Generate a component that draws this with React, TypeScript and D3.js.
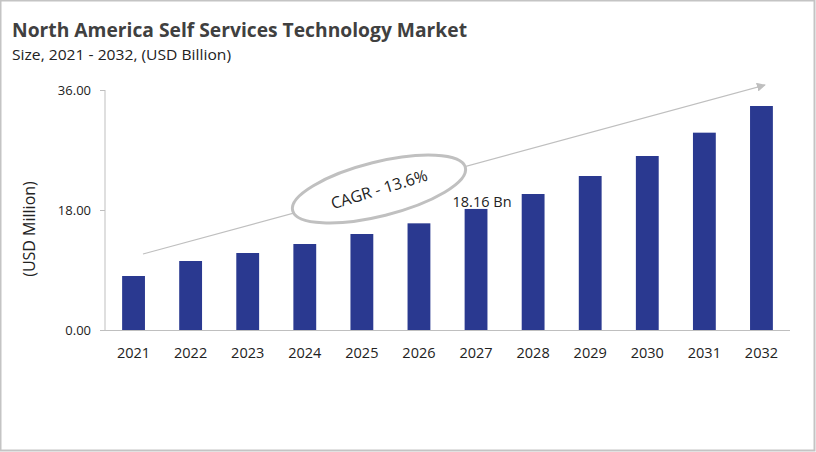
import { useEffect, useRef } from "react";
import * as d3 from "d3";

const years = [ "2021", "2022", "2023", "2024", "2025", "2026", "2027", "2028", "2029", "2030", "2031", "2032" ];
const marketSize = [ 8.1, 10.35, 11.55, 12.9, 14.4, 16.0, 18.16, 20.4, 23.1, 26.1, 29.6, 33.6 ];
const yTicks = [ 0, 18, 36 ];
const labelledYear = "2027";

const W = 816;
const H = 452;
const FONT = "'Open Sans', 'Noto Sans', sans-serif";

export default function App ()
{
    const svgRef = useRef<SVGSVGElement>( null );

    useEffect( () =>
    {
        document.body.style.margin = "0";
        if ( !svgRef.current ) return;
        const svg = d3.select( svgRef.current );
        svg.selectAll( "*" ).remove();

        svg.append( "rect" ).attr( "x", 0.5 ).attr( "y", 0.5 ).attr( "width", W - 2 ).attr( "height", H - 2 )
            .attr( "fill", "#fff" ).attr( "stroke", "#c4c4c4" ).attr( "stroke-width", 2 );

        // Titles
        svg.append( "text" ).attr( "x", 12 ).attr( "y", 37 ).attr( "fill", "#404040" )
            .style( "font-family", FONT ).style( "font-size", "20px" ).style( "font-weight", "700" )
            .attr( "textLength", 455 ).attr( "lengthAdjust", "spacingAndGlyphs" )
            .text( "North America Self Services Technology Market" );
        svg.append( "text" ).attr( "x", 12 ).attr( "y", 60 ).attr( "fill", "#222" )
            .style( "font-family", FONT ).style( "font-size", "15px" )
            .attr( "textLength", 219 ).attr( "lengthAdjust", "spacingAndGlyphs" )
            .text( "Size, 2021 - 2032, (USD Billion)" );

        const x = d3.scaleBand().domain( years ).range( [ 105, 790 ] ).paddingInner( 0.6 ).paddingOuter( 0.3 );
        const y = d3.scaleLinear().domain( [ 0, 36 ] ).range( [ 330, 90 ] );

        // Axes
        svg.append( "line" ).attr( "x1", 105 ).attr( "x2", 105 ).attr( "y1", y( 36 ) ).attr( "y2", y( 0 ) )
            .attr( "stroke", "#bfbfbf" ).attr( "stroke-width", 1 );
        svg.append( "line" ).attr( "x1", 100 ).attr( "x2", 790 ).attr( "y1", y( 0 ) + 0.5 ).attr( "y2", y( 0 ) + 0.5 )
            .attr( "stroke", "#bfbfbf" ).attr( "stroke-width", 1 );

        const yt = svg.append( "g" ).selectAll( "g" ).data( yTicks ).join( "g" );
        yt.append( "line" ).attr( "x1", 100 ).attr( "x2", 105 ).attr( "y1", d => y( d ) + 0.5 ).attr( "y2", d => y( d ) + 0.5 )
            .attr( "stroke", "#bfbfbf" );
        yt.append( "text" ).attr( "x", 91 ).attr( "y", d => y( d ) + 4.5 ).attr( "text-anchor", "end" )
            .attr( "fill", "#222" ).style( "font-family", FONT ).style( "font-size", "13px" )
            .text( d => d.toFixed( 2 ) );

        svg.append( "text" ).attr( "transform", "translate(35,229) rotate(-90)" ).attr( "text-anchor", "middle" )
            .attr( "fill", "#222" ).style( "font-family", FONT ).style( "font-size", "16px" )
            .text( "(USD Million)" );

        // Bars
        svg.append( "g" ).selectAll( "rect" ).data( years ).join( "rect" )
            .attr( "x", d => x( d )! ).attr( "width", x.bandwidth() )
            .attr( "y", ( d, i ) => y( marketSize[ i ] ) ).attr( "height", ( d, i ) => y( 0 ) - y( marketSize[ i ] ) )
            .attr( "fill", "#2a3990" );

        svg.append( "g" ).selectAll( "text" ).data( years ).join( "text" )
            .attr( "x", d => x( d )! + x.bandwidth() / 2 ).attr( "y", 358 ).attr( "text-anchor", "middle" )
            .attr( "fill", "#222" ).style( "font-family", FONT ).style( "font-size", "14.5px" )
            .text( d => d );

        // Value label
        const li = years.indexOf( labelledYear );
        svg.append( "text" ).attr( "x", x( labelledYear )! + x.bandwidth() / 2 + 6 ).attr( "y", y( marketSize[ li ] ) - 2 )
            .attr( "text-anchor", "middle" ).attr( "fill", "#222" ).style( "font-family", FONT ).style( "font-size", "15px" )
            .attr( "textLength", 59 ).attr( "lengthAdjust", "spacingAndGlyphs" )
            .text( `${ marketSize[ li ].toFixed( 2 ) } Bn` );

        // Trend arrow
        const defs = svg.append( "defs" );
        defs.append( "marker" ).attr( "id", "arrowhead" ).attr( "viewBox", "0 0 10 10" ).attr( "refX", 9 ).attr( "refY", 5 )
            .attr( "markerWidth", 9 ).attr( "markerHeight", 9 ).attr( "markerUnits", "userSpaceOnUse" ).attr( "orient", "auto" )
            .append( "path" ).attr( "d", "M0,0 L10,5 L0,10 z" ).attr( "fill", "#bfbfbf" );
        svg.append( "line" ).attr( "x1", 143 ).attr( "y1", 254 ).attr( "x2", 765 ).attr( "y2", 85 )
            .attr( "stroke", "#bfbfbf" ).attr( "stroke-width", 1.2 ).attr( "marker-end", "url(#arrowhead)" );

        // CAGR ellipse
        const cg = svg.append( "g" ).attr( "transform", "translate(379,189) rotate(-14)" );
        cg.append( "ellipse" ).attr( "rx", 89 ).attr( "ry", 27 ).attr( "fill", "#fff" )
            .attr( "stroke", "#c0c0c0" ).attr( "stroke-width", 3 );
        cg.append( "text" ).attr( "y", 6 ).attr( "text-anchor", "middle" ).attr( "fill", "#222" )
            .attr( "transform", "rotate(-3)" )
            .style( "font-family", FONT ).style( "font-size", "16px" )
            .text( "CAGR - 13.6%" );
    }, [] );

    return <svg ref={ svgRef } width={ W } height={ H } style={ { display: "block" } } />;
}
